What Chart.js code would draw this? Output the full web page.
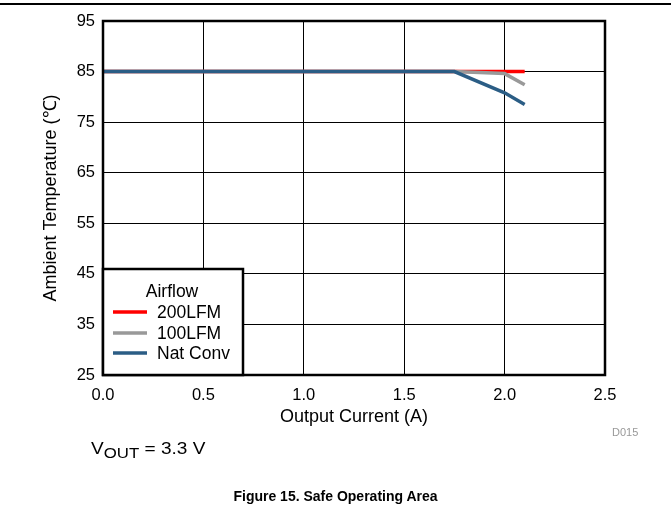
<!DOCTYPE html>
<html>
<head>
<meta charset="utf-8">
<script src="https://cdn.jsdelivr.net/npm/chart.js@4"></script>
<style>
  body { margin: 0; background: #fff; font-family: "Liberation Sans", Arial, sans-serif; }
  #wrap { position: relative; width: 671px; height: 514px; }
  #rule { position: absolute; left: 0; top: 3px; width: 671px; height: 0; border-top: 2px solid #000; }
  #d015 { position: absolute; left: 612px; top: 426px; font-size: 11px; color: #999; }
  #vout { position: absolute; left: 91px; top: 439px; font-size: 17px; color: #000;
          transform: scaleX(1.12); transform-origin: left top; white-space: nowrap; }
  #vout sub { font-size: 15px; vertical-align: -4px; }
  #fig { position: absolute; left: 0; width: 671px; top: 488px; text-align: center; font-size: 14px; font-weight: bold; }
</style>
</head>
<body>
<div id="wrap">
  <canvas id="myChart" width="671" height="514"></canvas>
  <div id="rule"></div>
  <div id="d015">D015</div>
  <div id="vout">V<sub>OUT</sub> = 3.3 V</div>
  <div id="fig">Figure 15. Safe Operating Area</div>
</div>
<script>
const series_labels = ["200LFM", "100LFM", "Nat Conv"];
const series_colors = ["#ff0000", "#999999", "#2b5d85"];
const lfm200 = [[0, 85], [1.75, 85], [2.0, 85], [2.1, 85]];
const lfm100 = [[0, 85], [1.75, 85], [2.0, 84.6], [2.1, 82.4]];
const nat_conv = [[0, 85], [1.75, 85], [2.0, 80.8], [2.1, 78.5]];
const x_ticks = [0, 0.5, 1.0, 1.5, 2.0, 2.5];
const y_ticks = [25, 35, 45, 55, 65, 75, 85, 95];

const toXY = (arr) => arr.map((p) => ({ x: p[0], y: p[1] }));

const frame_plugin = {
  id: "frame",
  afterDatasetsDraw(chart) {
    const { ctx, chartArea: a } = chart;
    ctx.save();
    ctx.strokeStyle = "#000";
    ctx.lineWidth = 2.5;
    ctx.strokeRect(a.left, a.top, a.right - a.left, a.bottom - a.top);

    // legend box in lower left of plot
    const bx = a.left, by = 269, bw = 140, bh = a.bottom - 269;
    ctx.fillStyle = "#fff";
    ctx.fillRect(bx, by, bw, bh);
    ctx.strokeRect(bx, by, bw, bh);
    ctx.fillStyle = "#000";
    ctx.font = '17.5px "Liberation Sans", Arial, sans-serif';
    ctx.textBaseline = "middle";
    ctx.textAlign = "center";
    ctx.fillText("Airflow", 172, 292);
    ctx.textAlign = "left";
    const rows = [312, 333, 353];
    // draw in legend order, red first
    [2, 1, 0].forEach((di, i) => {
      const ds = chart.data.datasets[di];
      ctx.strokeStyle = ds.borderColor;
      ctx.lineWidth = 3.5;
      ctx.beginPath();
      ctx.moveTo(113, rows[i]);
      ctx.lineTo(147, rows[i]);
      ctx.stroke();
      ctx.fillText(ds.label, 157, rows[i] + 1);
    });
    ctx.restore();
  },
};

const ctx = document.getElementById("myChart");
const chart_ = new Chart(ctx, {
  type: "line",
  data: {
    // blue drawn on top of the others, as in the figure
    datasets: [
      { label: series_labels[2], data: toXY(nat_conv), borderColor: series_colors[2] },
      { label: series_labels[1], data: toXY(lfm100), borderColor: series_colors[1] },
      { label: series_labels[0], data: toXY(lfm200), borderColor: series_colors[0] },
    ].map((d) => ({ ...d, borderWidth: 3.5, pointRadius: 0, tension: 0, fill: false })),
  },
  plugins: [frame_plugin],
  options: {
    responsive: false,
    animation: false,
    events: [],
    layout: { padding: { left: 0, right: 66, top: 21, bottom: 84 } },
    plugins: { legend: { display: false }, tooltip: { enabled: false } },
    scales: {
      x: {
        type: "linear",
        min: 0,
        max: 2.5,
        afterBuildTicks: (s) => { s.ticks = x_ticks.map((v) => ({ value: v })); },
        afterFit: (s) => { s.height = 55; },
        ticks: {
          color: "#000",
          padding: 11,
          maxRotation: 0,
          font: { family: "Liberation Sans", size: 16.5 },
          callback: (v) => v.toFixed(1),
        },
        grid: { color: "#000", lineWidth: 1, drawTicks: false },
        border: { display: false },
        title: {
          display: true,
          text: "Output Current (A)",
          color: "#000",
          font: { family: "Liberation Sans", size: 18 },
          padding: { top: 0, bottom: 2 },
        },
      },
      y: {
        min: 25,
        max: 95,
        afterBuildTicks: (s) => { s.ticks = y_ticks.map((v) => ({ value: v })); },
        afterFit: (s) => { s.width = 103; },
        ticks: {
          color: "#000",
          padding: 8,
          font: { family: "Liberation Sans", size: 16.5 },
        },
        grid: { color: "#000", lineWidth: 1, drawTicks: false },
        border: { display: false },
        title: {
          display: true,
          text: "Ambient Temperature (\u2103)",
          color: "#000",
          font: { family: "Liberation Sans", size: 18 },
          padding: { top: 40, bottom: 0 },
        },
      },
    },
  },
});
</script>
</body>
</html>
